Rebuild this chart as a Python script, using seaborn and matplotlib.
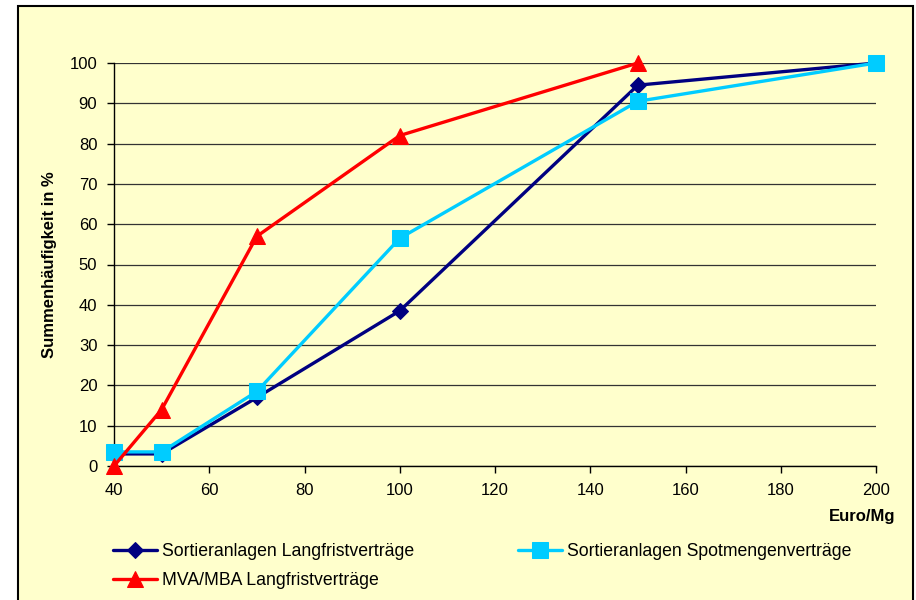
import numpy as np
import pandas as pd
import seaborn as sns
import matplotlib.pyplot as plt
from matplotlib.patches import Rectangle

euro_lang = [40, 50, 70, 100, 150, 200]
sortier_lang = [3, 3, 17, 38.5, 94.5, 100]

euro_spot = [40, 50, 70, 100, 150, 200]
sortier_spot = [3.5, 3.5, 18.5, 56.5, 90.5, 100]

euro_mva = [40, 50, 70, 100, 150]
mva_lang = [0, 14, 57, 82, 100]

namen = ['Sortieranlagen Langfristverträge', 'Sortieranlagen Spotmengenverträge', 'MVA/MBA Langfristverträge']
farben = ['#000080', '#00CCFF', '#FF0000']

sns.set_style('white')
plt.rcParams['font.family'] = ['Liberation Sans', 'DejaVu Sans']
plt.rcParams['text.color'] = 'black'
plt.rcParams['axes.labelcolor'] = 'black'
plt.rcParams['xtick.color'] = 'black'
plt.rcParams['ytick.color'] = 'black'

fig = plt.figure(figsize=(9.16, 6.0), dpi=100)
fig.patch.set_facecolor('white')
rahmen = Rectangle((18 / 916, -0.01), (913 - 18) / 916, 1 - 6 / 600 + 0.01,
                   transform=fig.transFigure, facecolor='#FFFFCC',
                   edgecolor='black', linewidth=1.5, zorder=-10)
fig.patches.append(rahmen)

ax = fig.add_axes([114 / 916, 1 - 466 / 600, (876 - 114) / 916, (466 - 63) / 600])
ax.set_facecolor('none')
ax.set_zorder(1)

sns.lineplot(x=euro_lang, y=sortier_lang, ax=ax, color=farben[0], linewidth=2.4,
             marker='D', markersize=8, markeredgecolor=farben[0], label=namen[0], clip_on=False, zorder=3)
sns.lineplot(x=euro_spot, y=sortier_spot, ax=ax, color=farben[1], linewidth=2.4,
             marker='s', markersize=11, markeredgecolor=farben[1], label=namen[1], clip_on=False, zorder=3)
sns.lineplot(x=euro_mva, y=mva_lang, ax=ax, color=farben[2], linewidth=2.4,
             marker='^', markersize=11, markeredgecolor=farben[2], label=namen[2], clip_on=False, zorder=3)

ax.set_xlim(40, 200)
ax.set_ylim(0, 100)
ax.set_xticks(np.arange(40, 201, 20))
ax.set_yticks(np.arange(0, 101, 10))
ax.yaxis.grid(True, color='#333333', linewidth=0.9)
ax.xaxis.grid(False)
ax.set_axisbelow(True)
for s in ['top', 'right']:
    ax.spines[s].set_visible(False)
for s in ['left', 'bottom']:
    ax.spines[s].set_color('black')
    ax.spines[s].set_linewidth(1.0)
ax.tick_params(axis='both', direction='out', length=5, width=1, color='black',
               labelsize=12, pad=7, left=True, bottom=True)

ax.set_ylabel('Summenhäufigkeit in %', fontsize=12, fontweight='bold', labelpad=9)
ax.set_xlabel('')
fig.text(895 / 916, 1 - 516 / 600, 'Euro/Mg', fontsize=12, fontweight='bold',
         ha='right', va='center')

handles, labels = ax.get_legend_handles_labels()
ax.get_legend().remove()
# Reihenfolge: Spalte 1 = Langfrist + MVA, Spalte 2 = Spotmengen
fig.legend([handles[0], handles[2], handles[1]], [labels[0], labels[2], labels[1]],
           loc='upper left', bbox_to_anchor=(104 / 916, 1 - 534 / 600), ncol=2,
           frameon=False, fontsize=12.7, borderpad=0, handlelength=2.5,
           handletextpad=0.3, columnspacing=5.85, labelspacing=0.7)

fig.savefig('out.png', dpi=100)
